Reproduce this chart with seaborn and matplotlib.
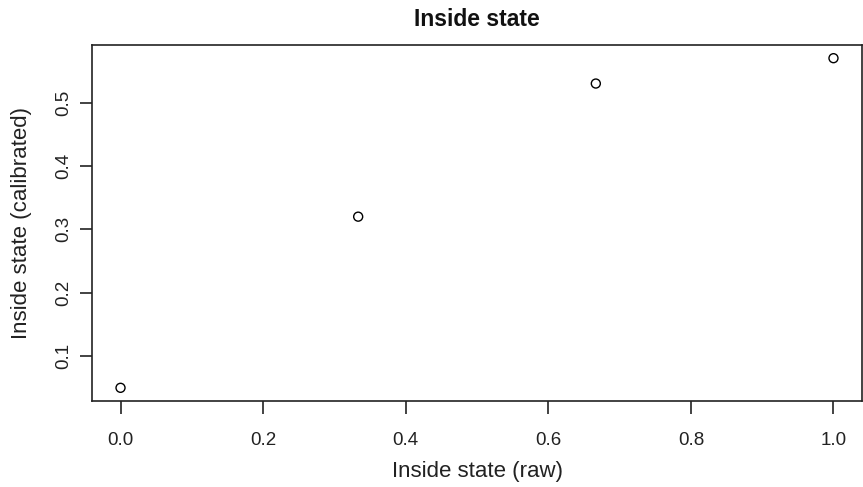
import numpy as np
import pandas as pd
import matplotlib
matplotlib.use("Agg")
import matplotlib.pyplot as plt
import seaborn as sns

# values
raw = [0.0, 1/3, 2/3, 1.0]
calibrated = [0.05, 0.32, 0.53, 0.57]
x_ticks = [0.0, 0.2, 0.4, 0.6, 0.8, 1.0]
y_ticks = [0.1, 0.2, 0.3, 0.4, 0.5]

df = pd.DataFrame({"raw": raw, "calibrated": calibrated})

sns.set_style("white")
plt.rcParams['font.family'] = ['Liberation Sans', 'DejaVu Sans']

W, H = 863, 487
fig = plt.figure(figsize=(W / 100, H / 100), dpi=100)
ax = fig.add_axes([92 / W, 1 - 401 / H, (862 - 92) / W, (401 - 45) / H])

sns.scatterplot(data=df, x="raw", y="calibrated", ax=ax, marker="o", s=42,
                facecolors="none", edgecolor="black", linewidth=1.0)

# R style 4% padding
def pad(lo, hi):
    r = hi - lo
    return lo - 0.04 * r, hi + 0.04 * r

ax.set_xlim(*pad(min(raw), max(raw)))
ax.set_ylim(*pad(min(calibrated), max(calibrated)))
ax.set_xticks(x_ticks)
ax.set_yticks(y_ticks)
ax.set_xticklabels([f"{v:.1f}" for v in x_ticks])
ax.set_yticklabels([f"{v:.1f}" for v in y_ticks], rotation=90, va="center")

ax.tick_params(axis="both", direction="out", length=9, width=1.2,
               color="#222222", labelsize=13.5, labelcolor="#222222")
ax.tick_params(axis="x", pad=13)
ax.tick_params(axis="y", pad=5)
ax.xaxis.set_ticks_position("bottom")
ax.yaxis.set_ticks_position("left")

for s in ax.spines.values():
    s.set_visible(True)
    s.set_color("#222222")
    s.set_linewidth(1.2)

ax.set_xlabel("Inside state (raw)", fontsize=16, color="#222222", labelpad=9)
ax.set_ylabel("Inside state (calibrated)", fontsize=16, color="#222222", labelpad=17)
ax.set_title("Inside state", fontsize=16.5, fontweight="bold", color="#111111", pad=14)

fig.savefig("out.png", dpi=100)
